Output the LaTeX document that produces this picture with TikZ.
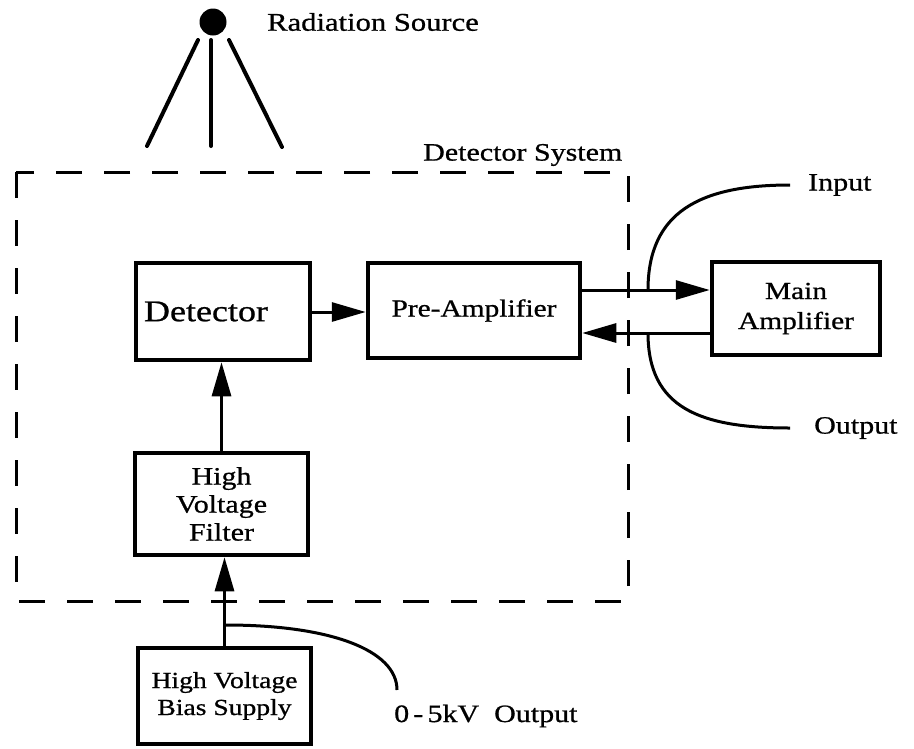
\documentclass[tikz,border=0pt]{standalone}
\usepackage{fontspec}
\setmainfont{Liberation Serif}[FakeStretch=1.2, FakeBold=0.8]
\usetikzlibrary{arrows.meta}
\tikzset{
  blk/.style={draw, line width=4.5pt, inner sep=0pt, align=center, font=\fontsize{24.5}{30}\selectfont},
  conn/.style={line width=3pt},
  arr/.style={line width=3pt, -{Triangle[length=34pt,width=19pt]}},
  ray/.style={line width=4pt, line cap=round},
  lbl/.style={font=\fontsize{25}{28}\selectfont, inner sep=0pt, anchor=west},
  sysbox/.style={line width=3pt, dash pattern=on 26pt off 22pt}
}
\begin{document}
\begin{tikzpicture}[x=1pt,y=-1pt]
\useasboundingbox (0,0) rectangle (914,748);
% radiation source
\node[circle, fill=black, minimum size=27pt, inner sep=0pt] (src) at (213,22) {};
\coordinate (r1) at (147,146);
\coordinate (r2) at (211,146);
\coordinate (r3) at (282,147);
\draw[ray] (198,40) -- (r1);
\draw[ray] (211,40) -- (r2);
\draw[ray] (229,40) -- (r3);
\node[lbl, font=\fontsize{25.5}{28}\selectfont] (srclbl) at (267,22) {Radiation Source};
% detector system
\draw[sysbox] (16,172) rectangle (628,601);
\node[lbl] (syslbl) at (423,155) {Detector System};
% blocks
\node[blk, minimum width=174pt, minimum height=97pt, font=\fontsize{30}{32}\selectfont] (det) at (223,311.5) {Detector\hspace{34pt}};
\node[blk, minimum width=212pt, minimum height=95pt] (pre) at (474,310.5) {Pre-Amplifier};
\node[blk, minimum width=168pt, minimum height=93pt] (main) at (796,308.5) {Main\\Amplifier};
\node[blk, minimum width=173pt, minimum height=102pt, font=\fontsize{25}{28}\selectfont] (filt) at (221.5,504) {High\\Voltage\\Filter};
\node[blk, minimum width=173pt, minimum height=96pt, font=\fontsize{23}{27}\selectfont] (bias) at (224.5,696) {High Voltage\\Bias Supply};
% connectors
\draw[arr] (det.east |- 0,312) -- (pre.west |- 0,312);
\draw[arr] (pre.east |- 0,290) -- (main.west |- 0,290);
\draw[arr] (main.west |- 0,333) -- (pre.east |- 0,333);
\draw[arr] (filt.north) -- (det.south -| filt.north);
\draw[arr] (bias.north) -- (bias.north |- filt.south);
% input / output taps
\coordinate (tin) at (648,290);
\coordinate (tout) at (648,333);
\coordinate (ein) at (790,185);
\coordinate (eout) at (790,428);
\draw[conn] (tin) .. controls (648,212) and (700,185) .. (ein);
\draw[conn] (tout) .. controls (648,408) and (700,428) .. (eout);
\node[lbl] (inlbl) at (808,185) {Input};
\node[lbl] (outlbl) at (814,428) {Output};
% bias output tap
\coordinate (tb) at (226,625);
\coordinate (eb) at (397,690);
\draw[conn] (tb) .. controls (330,625) and (397,650) .. (eb);
\node[lbl] (kvlbl) at (394,716) {0\,-\,5kV\ \ Output};
\end{tikzpicture}
\end{document}
